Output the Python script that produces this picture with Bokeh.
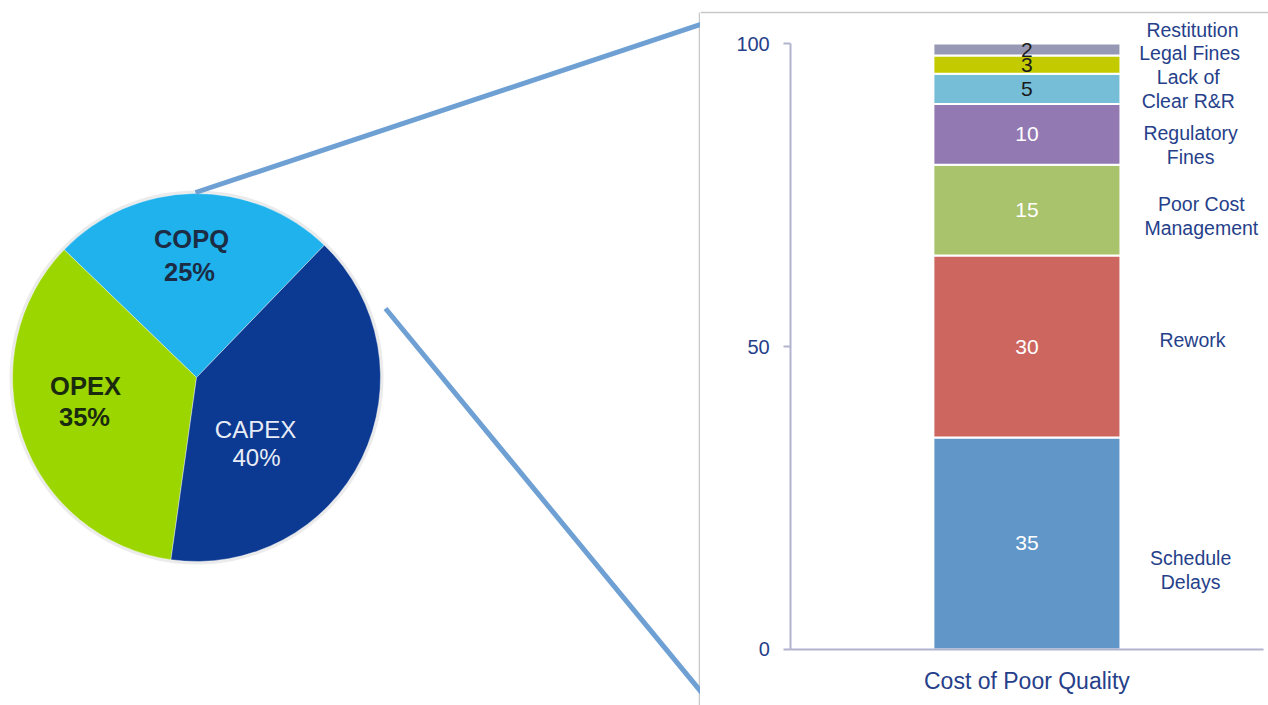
import numpy as np
from bokeh.plotting import figure
from bokeh.layouts import row
from bokeh.models import Range1d, FixedTicker, Label, Span, ColumnDataSource
from bokeh.core.properties import value
from bokeh.embed import file_html
from bokeh.resources import INLINE

# ---------------- data ----------------
pie_labels = ["COPQ", "OPEX", "CAPEX"]
pie_values = [25, 35, 40]

category = ["Cost of Poor Quality"]
segments = ["Schedule Delays", "Rework", "Poor Cost Management", "Regulatory Fines",
            "Lack of Clear R&R", "Legal Fines", "Restitution"]
segment_values = [35, 30, 15, 10, 5, 3, 2]
segment_lines = [["Schedule", "Delays"], ["Rework"], ["Poor Cost", "Management"],
                 ["Regulatory", "Fines"], ["Lack of", "Clear R&R"], ["Legal Fines"], ["Restitution"]]
y_ticks = [0, 50, 100]

# ---------------- styles / layout ----------------
FONT = "Liberation Sans"
NAVY = "#263f8a"
AXIS = "#b1b3cf"
pie_colors = ["#1fb2ec", "#9cd600", "#0c3a92"]
segment_colors = ["#6196c8", "#cc665f", "#a9c26c", "#9379b2", "#76bdd7", "#c3cb00", "#9798b3"]
value_text_colors = ["white", "white", "white", "white", "#1a1a1a", "#1a1a1a", "#1a1a1a"]
name_x = [0.350, 0.354, 0.373, 0.350, 0.345, 0.348, 0.354]
name_y = [13.2, 51.0, 71.5, 83.2, 92.5, 98.5, 102.3]
line_step = 3.96

pie_cx, pie_cy, pie_r = 196, 328, 184
pie_start_deg = 46
pie_text_pos = {"COPQ": [(191, 467), (189, 434)],
                "OPEX": [(85, 320), (84, 289)],
                "CAPEX": [(255, 276), (256, 248)]}
pie_text_colors = {"COPQ": "#1b2c44", "OPEX": "#1a2a0e", "CAPEX": "#e8ecf6"}
pie_text_style = {"COPQ": ("bold", "25.5px"), "OPEX": ("bold", "25.5px"), "CAPEX": ("normal", "24px")}

# ---------------- left: pie + connectors ----------------
p1 = figure(width=700, height=705, x_range=Range1d(0, 700), y_range=Range1d(0, 705),
            output_backend="svg", toolbar_location=None, min_border=0,
            x_axis_location=None, y_axis_location=None)
p1.grid.visible = False
p1.outline_line_color = None

p1.circle(x=pie_cx, y=pie_cy, radius=pie_r + 3, fill_color="#e2e2e2", line_color=None, fill_alpha=0.7)

cum = np.cumsum([0] + pie_values)
starts = np.deg2rad(pie_start_deg + cum[:-1] / 100 * 360)
ends = np.deg2rad(pie_start_deg + cum[1:] / 100 * 360)
src = ColumnDataSource(dict(start=starts, end=ends, color=pie_colors))
p1.wedge(x=pie_cx, y=pie_cy, radius=pie_r, start_angle="start", end_angle="end",
         fill_color="color", line_color="white", line_width=1, line_alpha=0.4, source=src)

for lab, v in zip(pie_labels, pie_values):
    (x1, y1), (x2, y2) = pie_text_pos[lab]
    style, size = pie_text_style[lab]
    for (tx, ty), t in [((x1, y1), lab), ((x2, y2), f"{v}%")]:
        p1.text(x=[tx], y=[ty], text=[t], text_font=value(FONT), text_font_size=size,
                text_font_style=style, text_color=pie_text_colors[lab],
                text_align="center", text_baseline="middle")

# panel frame left edge
p1.line(x=[699, 699], y=[0, 693], line_color="#c8c8c8", line_width=1.5)
# connectors
p1.line(x=[195, 703], y=[513, 682], line_color="#6fa0d4", line_width=5)
p1.line(x=[385, 702], y=[397, 12], line_color="#6fa0d4", line_width=5)

# ---------------- right: stacked bar ----------------
positions = list(range(len(category)))
p2 = figure(width=568, height=705, x_range=Range1d(-0.698, 0.5166), y_range=Range1d(-9.241, 107.096),
            output_backend="svg", toolbar_location=None, min_border=0)
p2.grid.visible = False
p2.outline_line_color = None

data = {"x": positions}
for s, v in zip(segments, segment_values):
    data[s] = [v]
p2.vbar_stack(segments, x="x", width=0.4, color=segment_colors, line_color="white",
              line_width=2, source=ColumnDataSource(data))

tops = np.cumsum(segment_values)
mids = tops - np.array(segment_values) / 2
p2.text(x=[positions[0]] * len(mids), y=mids, text=[str(v) for v in segment_values],
        text_color=value_text_colors, text_font=value(FONT), text_font_size="21px",
        text_align="center", text_baseline="middle")

for lines, nx, ny in zip(segment_lines, name_x, name_y):
    n = len(lines)
    for i, t in enumerate(lines):
        yy = ny + ((n - 1) / 2 - i) * line_step
        p2.add_layout(Label(x=nx, y=yy, text=t, text_font=FONT, text_font_size="19.5px",
                            text_color=NAVY, text_align="center", text_baseline="middle"))

# panel frame top edge
p2.add_layout(Span(location=105.12, dimension="width", line_color="#c8c8c8", line_width=1.5))

ya = p2.yaxis[0]
ya.fixed_location = -0.505
ya.bounds = (0, 100)
ya.ticker = FixedTicker(ticks=y_ticks)
ya.axis_line_color = AXIS
ya.axis_line_width = 2
ya.major_tick_line_color = AXIS
ya.major_tick_line_width = 2
ya.major_tick_out = 7
ya.major_tick_in = 0
ya.minor_tick_line_color = None
ya.major_label_text_font = FONT
ya.major_label_text_font_size = "20px"
ya.major_label_text_color = NAVY
ya.major_label_standoff = 14

xa = p2.xaxis[0]
xa.fixed_location = 0
xa.bounds = (-0.505, 0.505)
xa.ticker = FixedTicker(ticks=positions)
xa.major_label_overrides = {pos: c for pos, c in zip(positions, category)}
xa.axis_line_color = AXIS
xa.axis_line_width = 2
xa.major_tick_line_color = None
xa.minor_tick_line_color = None
xa.major_label_text_font = FONT
xa.major_label_text_font_size = "23px"
xa.major_label_text_color = NAVY
xa.major_label_standoff = 13

layout = row(p1, p2)
open("out.html", "w").write(file_html(layout, INLINE))
